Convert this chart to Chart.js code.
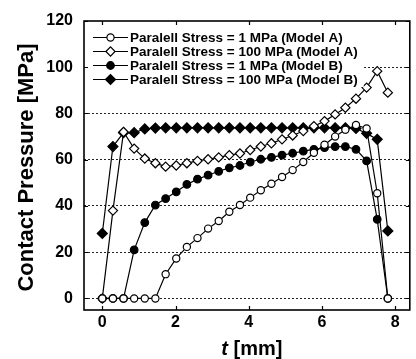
<!DOCTYPE html>
<html>
<head>
<meta charset="utf-8">
<script src="https://cdn.jsdelivr.net/npm/chart.js@4.4.1/dist/chart.umd.min.js"></script>
<style>
  html, body { margin: 0; padding: 0; background: #fff; }
  #wrap { width: 416px; height: 359px; }
</style>
</head>
<body>
<div id="wrap"><canvas id="chart" width="416" height="359"></canvas></div>
<script>
// positions along the contact [mm]
const positions = [0, 0.29, 0.58, 0.87, 1.16, 1.45, 1.73, 2.02, 2.31, 2.6, 2.89, 3.18, 3.47, 3.76,
  4.04, 4.33, 4.62, 4.91, 5.2, 5.49, 5.78, 6.07, 6.36, 6.64, 6.93, 7.22, 7.51, 7.8];

// contact pressure [MPa]
const modelA1 = [0, 0, 0, 0, 0, 0, 10.5, 17.3, 22.3, 26.1, 30.2, 33.5, 37.5, 40.4,
  43.6, 46.8, 49.6, 52.5, 55.5, 59, 63, 66.5, 70, 73, 75, 73.5, 45.5, 0];
const modelA100 = [0, 38, 72, 64.8, 60.5, 58.5, 57, 57.5, 58.5, 59.5, 60.2, 61, 62, 62.7,
  64.2, 65.7, 67.1, 68.8, 70.5, 72.4, 74.5, 76.7, 79.6, 82.5, 86.4, 91.2, 98.3, 89];
const modelB1 = [0, 0, 0, 21, 32.8, 40.4, 43.2, 46.1, 49.3, 51.6, 53.3, 55, 56.5, 57.5,
  59, 60.2, 61, 62, 62.8, 63.7, 64.5, 65.2, 65.7, 65.7, 64.5, 59.5, 34.2, 0];
const modelB100 = [28.1, 65.7, 71.7, 71.7, 73.3, 73.7, 73.8, 73.8, 73.8, 73.8, 73.8, 73.8, 73.8, 73.8,
  73.8, 73.8, 73.8, 73.8, 73.8, 73.8, 73.8, 73.8, 73.8, 73.8, 73.5, 71.4, 68.8, 29.2];

const seriesNames = [
  "Paralell Stress = 1 MPa (Model A)",
  "Paralell Stress = 100 MPa (Model A)",
  "Paralell Stress = 1 MPa (Model B)",
  "Paralell Stress = 100 MPa (Model B)"
];
const xTicks = [0, 2, 4, 6, 8];
const yTicks = [0, 20, 40, 60, 80, 100, 120];

const FONT = "'Liberation Sans', Arial, sans-serif";
Chart.defaults.font.family = FONT;
Chart.defaults.color = "#000";

function toPoints(values) {
  return values.map((v, i) => ({ x: positions[i], y: v }));
}

function makeDataset(label, values, style, fill, radius) {
  return {
    label: label,
    data: toPoints(values),
    borderColor: "#000",
    borderWidth: 1.2,
    pointStyle: style,
    pointRadius: radius,
    pointHoverRadius: radius,
    pointBackgroundColor: fill,
    pointBorderColor: "#000",
    pointBorderWidth: 1.2,
    tension: 0,
    fill: false
  };
}

function drawMarker(ctx, ds, cx, cy) {
  const r = ds.pointRadius;
  ctx.beginPath();
  if (ds.pointStyle === "rectRot") {
    ctx.moveTo(cx - r, cy);
    ctx.lineTo(cx, cy - r);
    ctx.lineTo(cx + r, cy);
    ctx.lineTo(cx, cy + r);
    ctx.closePath();
  } else {
    ctx.arc(cx, cy, r, 0, Math.PI * 2);
  }
  ctx.fillStyle = ds.pointBackgroundColor;
  ctx.fill();
  ctx.lineWidth = ds.pointBorderWidth;
  ctx.strokeStyle = "#000";
  ctx.stroke();
}

// frame, inward ticks, axis titles and legend
const decorations = {
  id: "decorations",
  afterDraw(chart) {
    const { ctx, chartArea: a, scales: { x, y } } = chart;
    ctx.save();
    ctx.setLineDash([]);

    ctx.strokeStyle = "#000";
    ctx.lineWidth = 1.6;
    ctx.strokeRect(a.left, a.top, a.right - a.left, a.bottom - a.top);

    ctx.lineWidth = 1.2;
    ctx.beginPath();
    xTicks.forEach(v => {
      const px = Math.round(x.getPixelForValue(v)) + 0.5;
      ctx.moveTo(px, a.bottom); ctx.lineTo(px, a.bottom - 4);
      ctx.moveTo(px, a.top); ctx.lineTo(px, a.top + 4);
    });
    yTicks.forEach(v => {
      const py = Math.round(y.getPixelForValue(v)) + 0.5;
      ctx.moveTo(a.left, py); ctx.lineTo(a.left + 4, py);
      ctx.moveTo(a.right, py); ctx.lineTo(a.right - 4, py);
    });
    ctx.stroke();

    // y title
    ctx.fillStyle = "#000";
    ctx.save();
    ctx.translate(33, (a.top + a.bottom) / 2 + 2);
    ctx.rotate(-Math.PI / 2);
    ctx.font = "bold 22px " + FONT;
    ctx.textAlign = "center";
    ctx.textBaseline = "alphabetic";
    ctx.fillText("Contact Pressure [MPa]", 0, 0);
    ctx.restore();

    // x title: italic t
    const tFont = "italic bold 20px " + FONT;
    const restFont = "bold 20px " + FONT;
    ctx.font = tFont;
    const tw = ctx.measureText("t").width;
    ctx.font = restFont;
    const rw = ctx.measureText(" [mm]").width;
    const startX = (a.left + a.right) / 2 + 5 - (tw + rw) / 2;
    ctx.textAlign = "left";
    ctx.textBaseline = "alphabetic";
    ctx.font = tFont;
    ctx.fillText("t", startX, 355);
    ctx.font = restFont;
    ctx.fillText(" [mm]", startX + tw, 355);

    ctx.restore();
  },
  afterDatasetsDraw(chart) {
    // legend sits on a white box that hides the gridlines behind it
    const { ctx, chartArea: a } = chart;
    ctx.save();
    ctx.font = "bold 13.5px " + FONT;
    let maxW = 0;
    chart.data.datasets.forEach(ds => { maxW = Math.max(maxW, ctx.measureText(ds.label).width); });
    ctx.fillStyle = "#fff";
    ctx.fillRect(a.left + 2, a.top + 8, 46 + maxW + 4, 4 * 14 + 2);
    ctx.textBaseline = "middle";
    chart.data.datasets.forEach((ds, i) => {
      const ly = a.top + 16.5 + i * 14;
      ctx.beginPath();
      ctx.lineWidth = 1.2;
      ctx.strokeStyle = "#000";
      ctx.moveTo(a.left + 9, ly);
      ctx.lineTo(a.left + 44, ly);
      ctx.stroke();
      drawMarker(ctx, ds, a.left + 26.5, ly);
      ctx.fillStyle = "#000";
      ctx.fillText(ds.label, a.left + 46, ly + 0.5);
    });
    ctx.restore();
  }
};

new Chart(document.getElementById("chart"), {
  type: "line",
  data: {
    datasets: [
      makeDataset(seriesNames[0], modelA1, "circle", "#fff", 3.6),
      makeDataset(seriesNames[1], modelA100, "rectRot", "#fff", 4.6),
      makeDataset(seriesNames[2], modelB1, "circle", "#000", 3.8),
      makeDataset(seriesNames[3], modelB100, "rectRot", "#000", 5)
    ]
  },
  options: {
    responsive: false,
    animation: false,
    devicePixelRatio: 1,
    layout: { padding: { top: 21, right: 0, bottom: 0, left: 0 } },
    plugins: {
      legend: { display: false },
      tooltip: { enabled: false }
    },
    scales: {
      x: {
        type: "linear",
        min: -0.5,
        max: 8.4,
        afterBuildTicks: s => { s.ticks = xTicks.map(v => ({ value: v })); },
        afterFit: s => { s.height = 49; },
        grid: { display: false, drawTicks: false },
        border: { display: false },
        ticks: {
          padding: 3,
          maxRotation: 0,
          font: { size: 16, weight: "bold" },
          color: "#000"
        }
      },
      y: {
        type: "linear",
        min: -5,
        max: 120,
        afterBuildTicks: s => { s.ticks = yTicks.map(v => ({ value: v })); },
        afterFit: s => { s.width = 84; },
        grid: {
          drawTicks: false,
          lineWidth: 1,
          color: c => (c.tick && c.tick.value >= 0 && c.tick.value <= 100) ? "#222" : "rgba(0,0,0,0)"
        },
        border: { display: false, dash: [2, 2] },
        ticks: {
          padding: 11,
          font: { size: 16, weight: "bold" },
          color: "#000"
        }
      }
    }
  },
  plugins: [decorations]
});
</script>
</body>
</html>
